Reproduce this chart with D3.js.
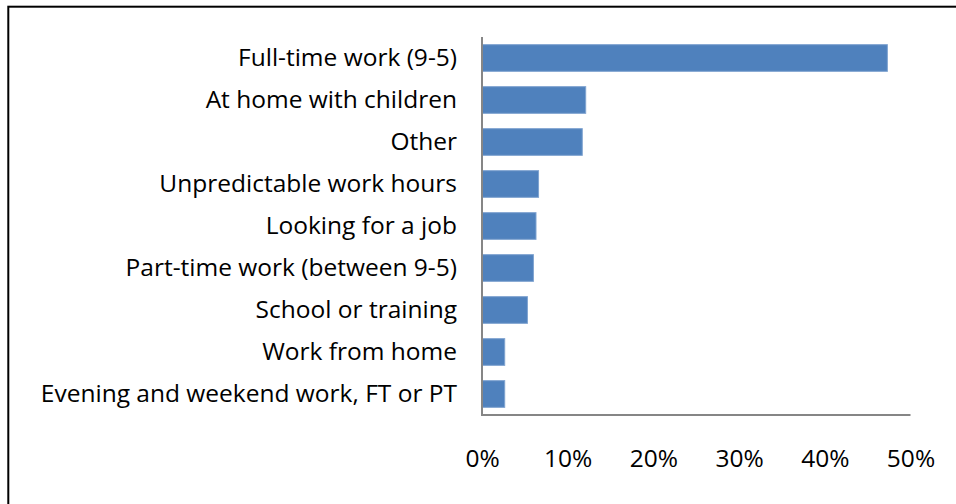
<!DOCTYPE html>
<html>
<head>
<meta charset="utf-8">
<script src="https://cdn.jsdelivr.net/npm/d3@7"></script>
<style>
  html, body { margin: 0; padding: 0; background: #fff; }
  svg { display: block; }
  text { font-family: "Open Sans", sans-serif; fill: #000; }
</style>
</head>
<body>
<svg id="chart" width="956" height="504"></svg>
<script>
const categories = [
  "Full-time work (9-5)",
  "At home with children",
  "Other",
  "Unpredictable work hours",
  "Looking for a job",
  "Part-time work (between 9-5)",
  "School or training",
  "Work from home",
  "Evening and weekend work, FT or PT"
];
const values = [47.3, 12.1, 11.7, 6.6, 6.3, 6.0, 5.3, 2.65, 2.65];
const tickValues = [0, 10, 20, 30, 40, 50];

const svg = d3.select("#chart");

// outer frame (extends past right/bottom edges as in the reference)
svg.append("rect")
  .attr("x", 8.3).attr("y", 6.7)
  .attr("width", 1000).attr("height", 600)
  .attr("fill", "none").attr("stroke", "#000").attr("stroke-width", 2);

const plot = { left: 482, right: 910.5, top: 37, bottom: 415 };

const x = d3.scaleLinear().domain([0, 50]).range([plot.left, plot.right]);
const y = d3.scaleBand().domain(categories)
  .range([plot.top, plot.bottom])
  .paddingInner(0.365).paddingOuter(0.1825);

// bars
svg.append("g").selectAll("rect")
  .data(categories.map((c, i) => ({ c, v: values[i] })))
  .join("rect")
  .attr("x", x(0))
  .attr("y", d => y(d.c))
  .attr("width", d => x(d.v) - x(0))
  .attr("height", y.bandwidth())
  .attr("fill", "#4F81BD")
  .attr("stroke", "#7FA3D0")
  .attr("stroke-width", 1);

const fs = "24.5px";

// category labels (y axis)
const yAxis = d3.axisLeft(y).tickSize(0).tickPadding(25);
const gy = svg.append("g").attr("transform", `translate(${plot.left},0)`).call(yAxis);
gy.select(".domain").remove();
gy.selectAll("text")
  .style("font-family", "'Open Sans', sans-serif")
  .style("font-size", fs).attr("fill", "#000");

// x axis labels
const xAxis = d3.axisBottom(x).tickValues(tickValues)
  .tickFormat(d => d + "%").tickSize(0).tickPadding(35);
const gx = svg.append("g").attr("transform", `translate(0,${plot.bottom})`).call(xAxis);
gx.select(".domain").remove();
gx.selectAll("text")
  .style("font-family", "'Open Sans', sans-serif")
  .style("font-size", fs).attr("fill", "#000");

// axis lines
svg.append("line")
  .attr("x1", plot.left).attr("x2", plot.left)
  .attr("y1", plot.top).attr("y2", plot.bottom + 1)
  .attr("stroke", "#868686").attr("stroke-width", 2);
svg.append("line")
  .attr("x1", plot.left - 1).attr("x2", plot.right)
  .attr("y1", plot.bottom).attr("y2", plot.bottom)
  .attr("stroke", "#868686").attr("stroke-width", 2);
</script>
</body>
</html>
